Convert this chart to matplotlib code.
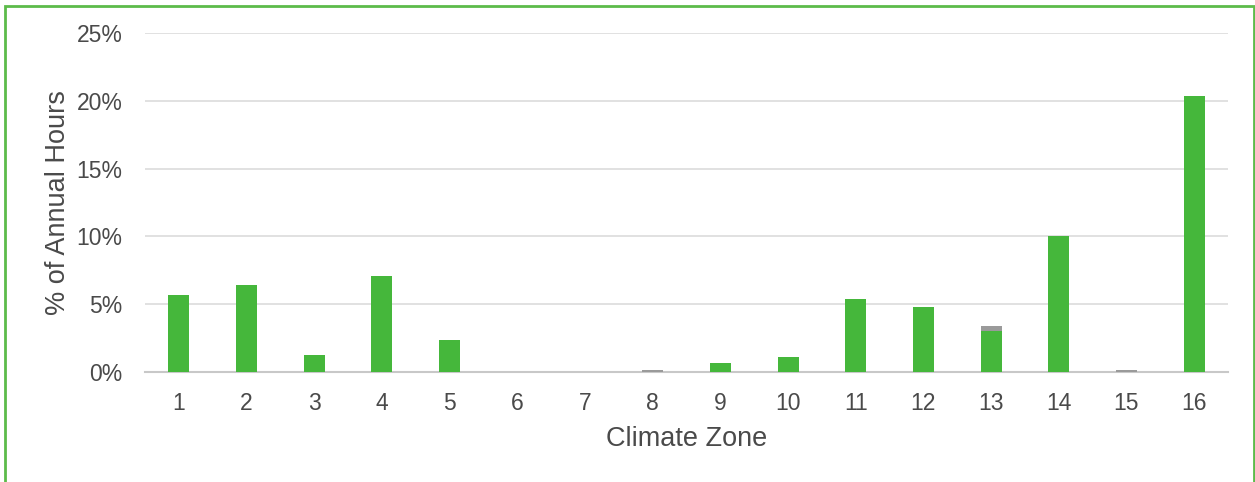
import numpy as np
import matplotlib.pyplot as plt
from matplotlib.patches import Rectangle

plt.rcParams['font.family'] = ['Liberation Sans', 'DejaVu Sans']

# data
zones = list(range(1, 17))
green_pct = [5.7, 6.4, 1.25, 7.1, 2.4, 0, 0, 0, 0.65, 1.1, 5.4, 4.8, 3.05, 10.0, 0, 20.35]
gray_pct = [0, 0, 0, 0, 0, 0, 0, 0.12, 0, 0, 0, 0, 0.35, 0, 0.18, 0]
yticks = [0, 5, 10, 15, 20, 25]

fig = plt.figure(figsize=(12.55, 4.82), dpi=100)
ax = fig.add_axes([0.1155, 0.228, 0.863, 0.7035])

x = np.array(zones)
ax.bar(x, green_pct, width=0.31, color='#45b73b', zorder=3)
ax.bar(x, gray_pct, width=0.31, bottom=green_pct, color='#9a9a9a', zorder=3)

ax.set_xlim(0.5, 16.5)
ax.set_ylim(0, 25)
ax.set_yticks(yticks)
ax.set_yticklabels([f'{v}%' for v in yticks])
ax.set_xticks(zones)
ax.grid(axis='y', color='#dcdcdc', linewidth=1.2, zorder=0)
for s in ['top', 'right', 'left']:
    ax.spines[s].set_visible(False)
ax.spines['bottom'].set_color('#c8c8c8')
ax.spines['bottom'].set_linewidth(1.5)
ax.tick_params(axis='both', length=0, labelsize=16.5, labelcolor='#4a4a4a')
ax.tick_params(axis='y', pad=16)
ax.tick_params(axis='x', pad=14)
ax.set_ylabel('% of Annual Hours', fontsize=19.5, color='#4a4a4a', labelpad=4)
ax.set_xlabel('Climate Zone', fontsize=19.5, color='#4a4a4a', labelpad=8)

# green frame around the chart
fig.patches.append(Rectangle((5 / 1255, -0.05), 1249 / 1255, 1 - 6 / 482 + 0.05,
                             transform=fig.transFigure, fill=False,
                             edgecolor='#5cbb4a', linewidth=2, clip_on=False))

fig.savefig('out.png', dpi=100)
